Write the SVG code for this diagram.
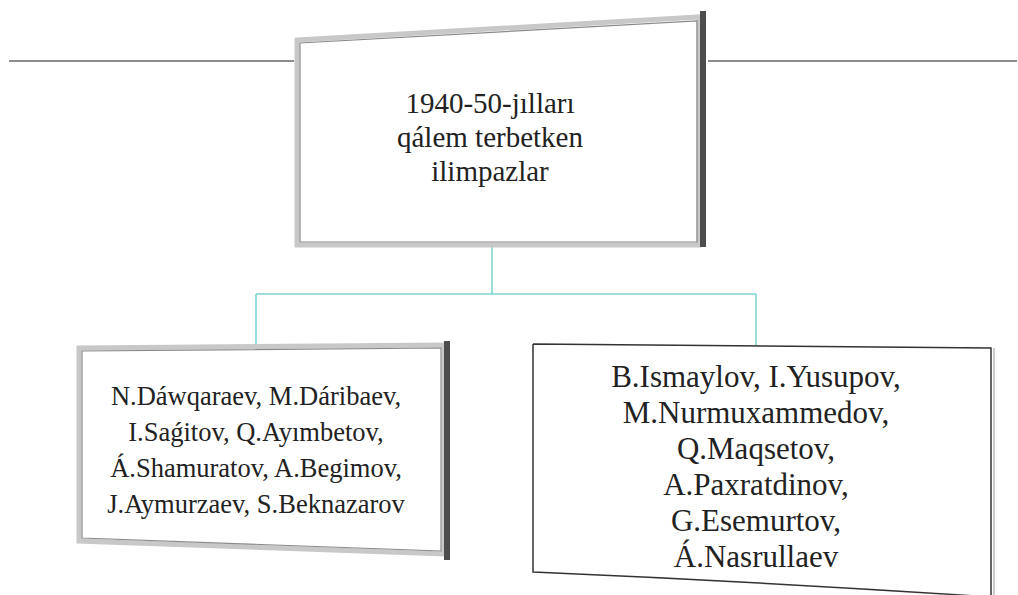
<svg xmlns="http://www.w3.org/2000/svg" width="1018" height="595" viewBox="0 0 1018 595">
<style>
.bevel{fill:#fff;stroke:#c8c8c8;stroke-width:5;stroke-linejoin:miter}
.inner{fill:none;stroke:#8a8a8a;stroke-width:1.2}
.dark{stroke:#4d4d4d;stroke-width:6;fill:none}
.conn{stroke:#7fd3d3;stroke-width:1.6;fill:none}
.hline{stroke:#8c8c8c;stroke-width:1.8}
text{font-family:'Liberation Serif','Times New Roman','DejaVu Serif',serif;fill:#222;text-anchor:middle}
</style>
<rect width="1018" height="595" fill="#fff"/>
<g id="side-lines">
<line class="hline" x1="9" y1="61" x2="294" y2="61"/>
<line class="hline" x1="708" y1="61" x2="1017" y2="61"/>
</g>
<g id="connectors">
<line class="conn" x1="492" y1="247" x2="492" y2="294"/>
<line class="conn" x1="256" y1="294" x2="756" y2="294"/>
<line class="conn" x1="256" y1="294" x2="256" y2="345"/>
<line class="conn" x1="756" y1="294" x2="756" y2="346"/>
</g>
<g id="node-top">
<polygon class="bevel" points="297,40 699,17 699,245 297,245"/>
<polygon class="inner" points="300,43 697,21 697,242 300,242"/>
<line class="dark" x1="703" y1="11" x2="703" y2="247"/>
<text font-family="Liberation Serif, serif" font-size="29" x="490" y="113">1940-50-jılları</text>
<text font-family="Liberation Serif, serif" font-size="29" x="490" y="147">qálem terbetken</text>
<text font-family="Liberation Serif, serif" font-size="29" x="490" y="181">ilimpazlar</text>
</g>
<g id="node-left">
<polygon class="bevel" points="79,348 444,345 444,554 79,541"/>
<polygon class="inner" points="82,351 441,348 441,551 82,538"/>
<line class="dark" x1="447" y1="341" x2="447" y2="560"/>
<text font-family="Liberation Serif, serif" font-size="26.5" x="256" y="405">N.Dáwqaraev, M.Dáribaev,</text>
<text font-family="Liberation Serif, serif" font-size="26.5" x="256" y="441">I.Saǵitov, Q.Ayımbetov,</text>
<text font-family="Liberation Serif, serif" font-size="26.5" x="256" y="477">Á.Shamuratov, A.Begimov,</text>
<text font-family="Liberation Serif, serif" font-size="26.5" x="256" y="513">J.Aymurzaev, S.Beknazarov</text>
</g>
<g id="node-right">
<path d="M533,344 L991,348 L991,600 M533,344 L533,572 C650,577 780,583 991,597" fill="#fff" stroke="#333" stroke-width="1.5"/>
<line x1="994" y1="348" x2="994" y2="600" stroke="#999" stroke-width="1"/>
<text font-family="Liberation Serif, serif" font-size="31" x="756" y="387">B.Ismaylov, I.Yusupov,</text>
<text font-family="Liberation Serif, serif" font-size="31" x="756" y="423">M.Nurmuxammedov,</text>
<text font-family="Liberation Serif, serif" font-size="31" x="756" y="459">Q.Maqsetov,</text>
<text font-family="Liberation Serif, serif" font-size="31" x="756" y="495">A.Paxratdinov,</text>
<text font-family="Liberation Serif, serif" font-size="31" x="756" y="531">G.Esemurtov,</text>
<text font-family="Liberation Serif, serif" font-size="31" x="756" y="567">Á.Nasrullaev</text>
</g>
</svg>
